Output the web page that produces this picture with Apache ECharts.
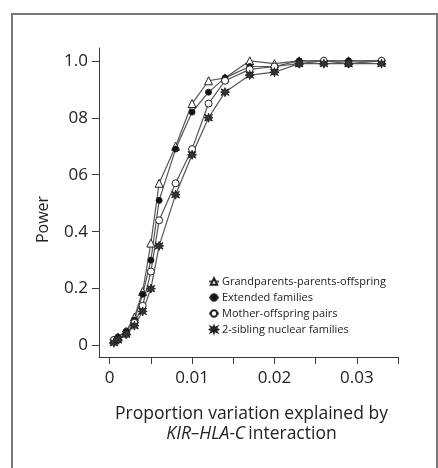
<!DOCTYPE html>
<html>
<head>
<meta charset="utf-8">
<script src="https://cdn.jsdelivr.net/npm/echarts@6/dist/echarts.min.js"></script>
<style>
  html, body { margin: 0; padding: 0; background: #fff; }
  #chart { width: 438px; height: 468px; }
</style>
</head>
<body>
<div id="chart"></div>
<script>
// proportion of variation explained (x)
const xValues = [0.0005, 0.001, 0.002, 0.003, 0.004, 0.005, 0.006, 0.008, 0.010, 0.012, 0.014, 0.017, 0.020, 0.023, 0.026, 0.029, 0.033]

// power per design
const grandparents = [0.02, 0.03, 0.05, 0.10, 0.19, 0.36, 0.57, 0.70, 0.85, 0.93, 0.94, 1.00, 0.99, 1.00, 1.00, 1.00, 1.00]
const extended = [0.02, 0.03, 0.05, 0.09, 0.18, 0.30, 0.51, 0.69, 0.82, 0.89, 0.94, 0.98, 0.98, 1.00, 1.00, 1.00, 1.00]
const motherOffspring = [0.02, 0.02, 0.04, 0.08, 0.14, 0.26, 0.44, 0.57, 0.69, 0.85, 0.93, 0.97, 0.98, 0.99, 1.00, 0.99, 1.00]
const siblings = [0.01, 0.02, 0.04, 0.07, 0.12, 0.20, 0.35, 0.53, 0.67, 0.80, 0.89, 0.95, 0.96, 0.99, 0.99, 0.99, 0.99]

const seriesNames = ['Grandparents-parents-offspring', 'Extended families', 'Mother-offspring pairs', '2-sibling nuclear families']

const xTickValues = [0, 0.005, 0.01, 0.015, 0.02, 0.025, 0.03, 0.035]
const xLabelValues = [0, 0.01, 0.02, 0.03]
const yTickValues = [0, 0.2, 0.4, 0.6, 0.8, 1.0]
const yTickLabels = ['0', '0.2', '0.4', '06', '08', '1.0']

const starPath = 'path://M5,0 L6,3.5 L9.3,1.7 L7.5,5 L10,6 L7.5,7 L9.3,10.3 L6,8.5 L5,12 L4,8.5 L0.7,10.3 L2.5,7 L0,6 L2.5,5 L0.7,1.7 L4,3.5 Z'

const pairs = (ys) => xValues.map((x, i) => [x, ys[i]])

const chart = echarts.init(document.getElementById('chart'))
const font = '"Open Sans", "Noto Sans", sans-serif'
const lineColor = '#3a3a3a'

const makeSeries = (name, data, symbol, size, fill) => ({
  name: name,
  type: 'line',
  data: pairs(data),
  symbol: symbol,
  symbolSize: size,
  lineStyle: { color: '#555', width: 1.2 },
  itemStyle: { color: fill, borderColor: '#222', borderWidth: 1 },
  emphasis: { disabled: true },
  z: 3
})

const option = {
  animation: false,
  textStyle: { fontFamily: font },
  graphic: [
    {
      type: 'rect',
      shape: { x: 12, y: 14, width: 425, height: 470 },
      style: { fill: 'none', stroke: '#777', lineWidth: 2 },
      silent: true
    }
  ],
  grid: { left: 99, top: 48, width: 299, height: 309 },
  legend: {
    orient: 'vertical',
    left: 203,
    top: 271,
    itemWidth: 10,
    itemHeight: 8,
    itemGap: 5,
    textStyle: { fontSize: 11, color: '#222', fontFamily: font, padding: [0, 0, 0, -2] },
    data: seriesNames
  },
  xAxis: {
    type: 'value',
    min: -0.0013,
    max: 0.035,
    splitLine: { show: false },
    axisLine: { onZero: false, lineStyle: { color: lineColor, width: 1 } },
    axisTick: { length: 7, lineStyle: { color: lineColor }, customValues: xTickValues },
    axisLabel: {
      customValues: xLabelValues,
      margin: 13,
      fontSize: 17,
      color: '#222',
      formatter: (v) => (v === 0 ? '0' : v.toFixed(2))
    },
    name: '{n|Proportion variation explained by}\n{i|KIR–HLA-C} {n|interaction}',
    nameLocation: 'middle',
    nameGap: 47,
    nameTextStyle: {
      padding: [0, 0, 0, 6],
      rich: {
        n: { fontSize: 17.5, color: '#222', fontFamily: font, lineHeight: 20 },
        i: { fontSize: 17.5, color: '#222', fontFamily: font, fontStyle: 'italic', lineHeight: 20 }
      }
    }
  },
  yAxis: {
    type: 'value',
    min: -0.04,
    max: 1.045,
    splitLine: { show: false },
    axisLine: { show: true, onZero: false, lineStyle: { color: lineColor, width: 1 } },
    axisTick: { show: true, length: 7, lineStyle: { color: lineColor }, customValues: yTickValues },
    axisLabel: {
      customValues: yTickValues,
      margin: 11,
      fontSize: 17,
      color: '#222',
      formatter: (v) => yTickLabels[yTickValues.findIndex((t) => Math.abs(t - v) < 1e-6)]
    },
    name: 'Power',
    nameLocation: 'middle',
    nameGap: 48,
    nameTextStyle: { fontSize: 16, color: '#222', padding: [0, 0, 0, -34] }
  },
  series: [
    makeSeries(seriesNames[0], grandparents, 'triangle', 8, '#fff'),
    makeSeries(seriesNames[1], extended, 'circle', 6, '#111'),
    makeSeries(seriesNames[2], motherOffspring, 'circle', 7, '#fff'),
    makeSeries(seriesNames[3], siblings, starPath, 9, '#333')
  ]
}

chart.setOption(option)
</script>
</body>
</html>
